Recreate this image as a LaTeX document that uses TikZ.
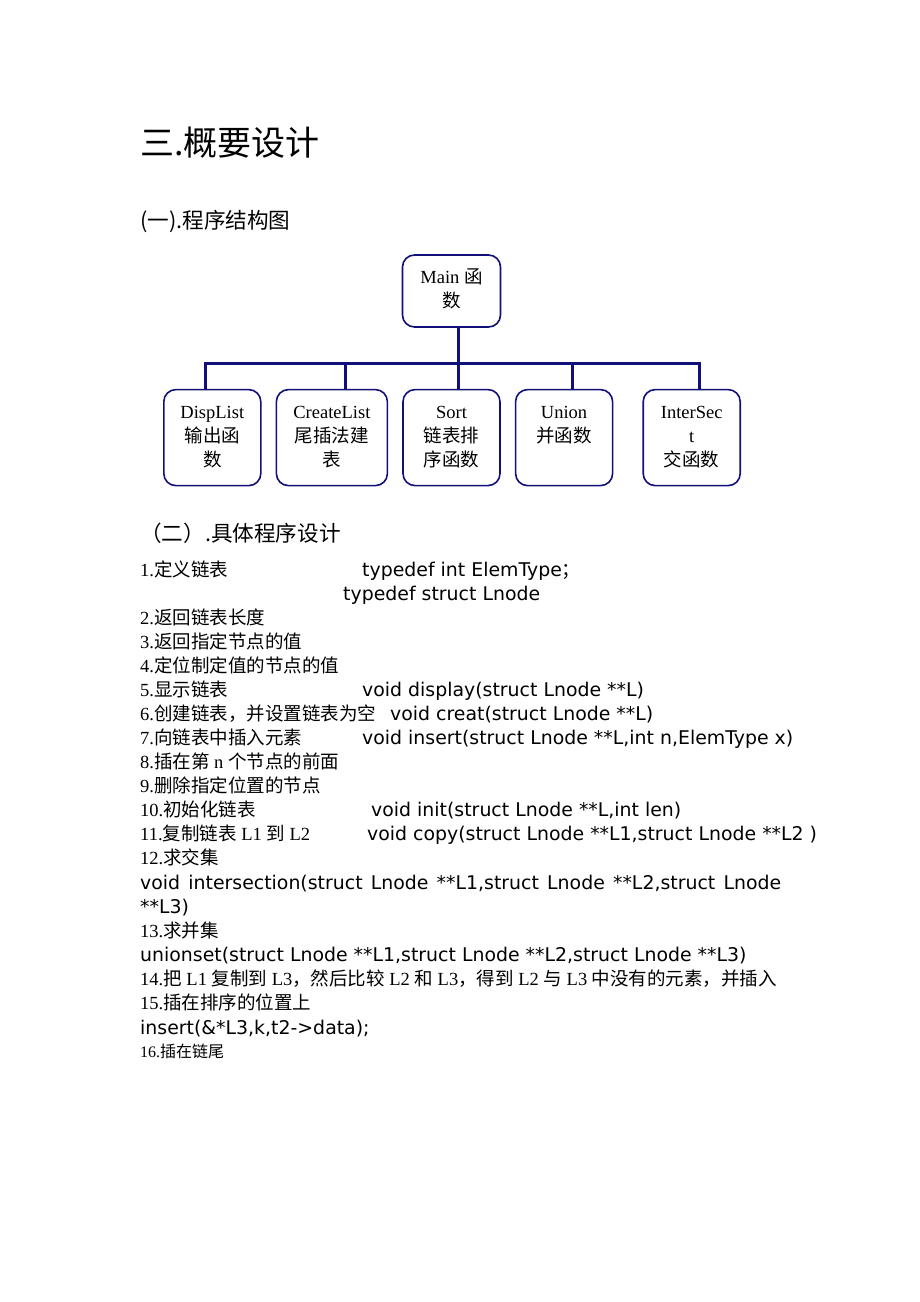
\documentclass[tikz,border=0pt]{standalone}
\usepackage{fontspec}
\setmainfont{Liberation Serif}
\setsansfont{Liberation Sans}
\newfontfamily\cjk{Noto Sans CJK SC}
\newfontfamily\codefont{DejaVu Sans}
\usetikzlibrary{positioning,calc}

\definecolor{navy}{RGB}{16,16,120}
\newcommand{\zh}[1]{{\cjk #1}}
\newcommand{\boxtxt}[3]{\parbox[t][#2][t]{#1}{\centering\vspace*{12pt}\strut #3}}

\begin{document}
\begin{tikzpicture}[
    x=1pt, y=-1pt,
    node distance=14pt,
    box/.style={rectangle, draw=navy, line width=1.6pt, rounded corners=12pt, inner sep=0pt, font=\fontsize{18.5}{24}\selectfont},
    link/.style={draw=navy, line width=3pt},
    item/.style={anchor=base west, inner sep=0pt, font=\fontsize{18.5}{24}\selectfont},
    code/.style={anchor=base west, inner sep=0pt, font=\codefont\fontsize{18.9}{24}\selectfont},
    heading/.style={anchor=base west, inner sep=0pt, font=\cjk\fontsize{21.6}{26}\selectfont}
]
\useasboundingbox (0,0) rectangle (920,1302);
\fill[white] (0,0) rectangle (920,1302);

% Headings
\node[anchor=base west, inner sep=0pt, font=\cjk\fontsize{34}{40}\selectfont] (title) at (140,155) {三.概要设计};
\node[heading] (part1) at (140,228) {(一).程序结构图};

% Structure chart
\node[box] (main) at (451.5,291) {\boxtxt{98pt}{72pt}{Main \zh{函}\\\zh{数}}};
\node[box, below=61pt of main] (sort) {\boxtxt{97pt}{96pt}{Sort\\\zh{链表排}\\\zh{序函数}}};
\node[box, left=of sort] (create) {\boxtxt{111pt}{96pt}{CreateList\\\zh{尾插法建}\\\zh{表}}};
\node[box, left=of create] (disp) {\boxtxt{97pt}{96pt}{DispList\\\zh{输出函}\\\zh{数}}};
\node[box, right=of sort] (union) {\boxtxt{97pt}{96pt}{Union\\\zh{并函数}}};
\node[box, right=29pt of union] (inter) {\boxtxt{97pt}{96pt}{InterSec\\t\\\zh{交函数}}};

\coordinate (bar) at (460,363);
\draw[link] ([xshift=7]main.south) -- ([xshift=7]sort.north);
\draw[link] ([xshift=-7]disp.north) |- ([xshift=8]inter.north |- bar) -- ([xshift=8]inter.north);
\draw[link] ([xshift=14]create.north) -- ([xshift=14]create.north |- bar);
\draw[link] ([xshift=8]union.north) -- ([xshift=8]union.north |- bar);

% Program design list
\node[heading] (part2) at (140,541) {（二）.具体程序设计};
\node[item] (l1) at (140,576) {1.\zh{定义链表}};
\node[code] (c1) at (362,576) {typedef int ElemType\zh{；}};
\node[code] (c1b) at (343,600) {typedef struct Lnode};
\node[item] (l2) at (140,624) {2.\zh{返回链表长度}};
\node[item] (l3) at (140,648) {3.\zh{返回指定节点的值}};
\node[item] (l4) at (140,672) {4.\zh{定位制定值的节点的值}};
\node[item] (l5) at (140,696) {5.\zh{显示链表}};
\node[code] (c5) at (362,696) {void display(struct Lnode **L)};
\node[item] (l6) at (140,720) {6.\zh{创建链表，并设置链表为空}};
\node[code] (c6) at (390,720) {void creat(struct Lnode **L)};
\node[item] (l7) at (140,744) {7.\zh{向链表中插入元素}};
\node[code] (c7) at (362,744) {void insert(struct Lnode **L,int n,ElemType x)};
\node[item] (l8) at (140,768) {8.\zh{插在第} n \zh{个节点的前面}};
\node[item] (l9) at (140,792) {9.\zh{删除指定位置的节点}};
\node[item] (l10) at (140,816) {10.\zh{初始化链表}};
\node[code] (c10) at (371,816) {void init(struct Lnode **L,int len)};
\node[item] (l11) at (140,840) {11.\zh{复制链表} L1 \zh{到} L2};
\node[code] (c11) at (367,840) {void copy(struct Lnode **L1,struct Lnode **L2 )};
\node[item] (l12) at (140,864) {12.\zh{求交集}};
\node[code] (c12) at (140,889) {\makebox[641pt][s]{void intersection(struct Lnode **L1,struct Lnode **L2,struct Lnode}};
\node[code] (c12b) at (140,913) {**L3)};
\node[item] (l13) at (140,937) {13.\zh{求并集}};
\node[code] (c13) at (140,961) {unionset(struct Lnode **L1,struct Lnode **L2,struct Lnode **L3)};
\node[item] (l14) at (140,985) {14.\zh{把} L1 \zh{复制到} L3\zh{，然后比较} L2 \zh{和} L3\zh{，得到} L2 \zh{与} L3 \zh{中没有的元素，并插入}};
\node[item] (l15) at (140,1009) {15.\zh{插在排序的位置上}};
\node[code] (c15) at (140,1034) {insert(\&*L3,k,t2->data);};
\node[item, font=\fontsize{16}{20}\selectfont] (l16) at (140,1057) {16.\zh{插在链尾}};

\end{tikzpicture}
\end{document}
